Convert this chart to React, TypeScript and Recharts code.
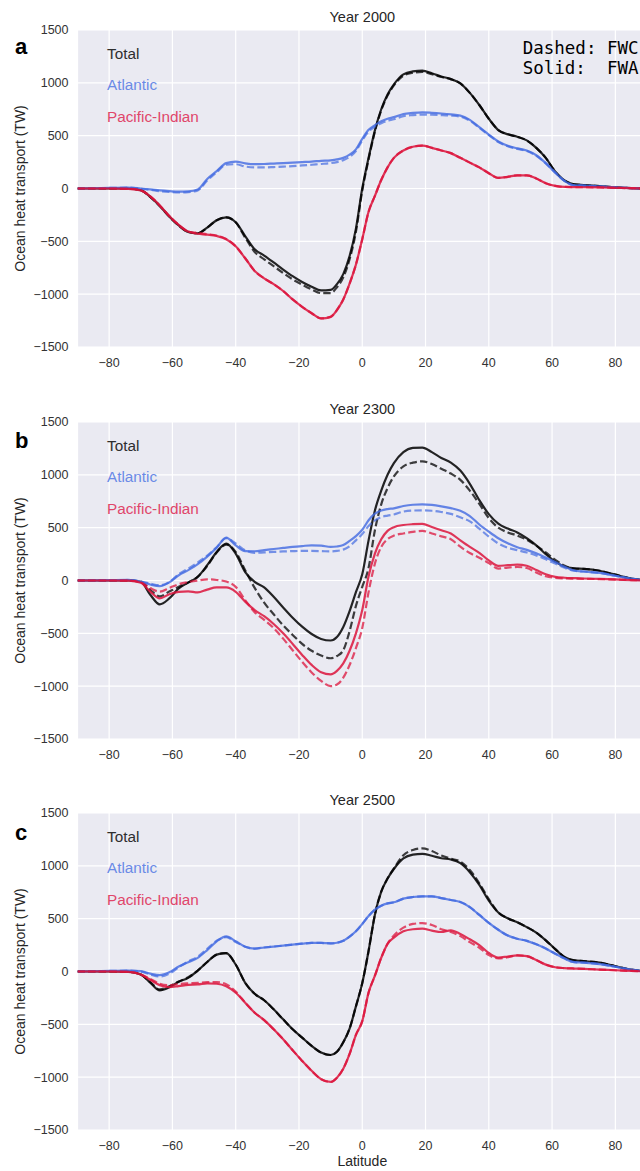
import React from "react";
import { LineChart, Line, XAxis, YAxis, CartesianGrid } from "recharts";

// latitude grid shared by every curve
const lat = [
  -90, -80, -74, -70, -67, -64, -61, -58, -55, -52, -49, -46, -43, -40, -37, -34, -31, -28, -25, -22,
  -19, -16, -13, -10, -8, -6, -4, -2, 0, 2, 4, 6, 8, 10, 13, 16, 19, 22, 25, 28,
  31, 34, 37, 40, 43, 46, 49, 52, 55, 58, 61, 64, 67, 70, 75, 80, 85, 90,
];

// ---- Year 2000 ----
const a_total_fwa = [
  0, 0, 0, -15, -80, -165, -265, -350, -412, -425, -370, -300, -274, -320, -450, -575, -635, -700, -767, -830,
  -885, -930, -965, -960, -905, -810, -640, -380, 0, 290, 550, 750, 890, 985, 1080, 1108, 1116, 1090, 1060, 1035,
  995, 905, 790, 660, 553, 513, 490, 455, 385, 290, 160, 75, 40, 32, 22, 10, 4, 0,
];
const a_total_fwc = [
  0, 0, 0, -15, -80, -165, -265, -350, -412, -425, -370, -300, -274, -320, -465, -600, -670, -735, -800, -860,
  -910, -955, -990, -990, -935, -840, -670, -410, -20, 275, 540, 740, 880, 975, 1068, 1095, 1103, 1082, 1055, 1035,
  995, 905, 790, 660, 553, 513, 490, 455, 385, 290, 160, 75, 40, 32, 22, 10, 4, 0,
];
const a_atl_fwa = [
  0, 5, 8, 0, -8, -18, -25, -30, -28, -10, 90, 165, 240, 255, 238, 230, 232, 236, 240, 245,
  250, 255, 262, 267, 275, 290, 320, 370, 470, 555, 600, 636, 660, 675, 705, 715, 720, 716, 710, 702,
  690, 650, 580, 510, 445, 405, 380, 360, 315, 240, 150, 70, 30, 28, 20, 10, 4, 0,
];
const a_atl_fwc = [
  0, 5, 8, -2, -12, -25, -33, -38, -35, -18, 75, 155, 225, 230, 208, 200, 200, 203, 207, 212,
  218, 225, 232, 240, 250, 268, 300, 355, 455, 540, 585, 618, 640, 655, 685, 695, 700, 698, 695, 690,
  680, 642, 575, 505, 440, 400, 375, 355, 310, 238, 150, 70, 30, 28, 20, 10, 4, 0,
];
const a_pi_fwa = [
  0, 0, -3, -18, -75, -160, -260, -345, -408, -428, -437, -450, -480, -547, -660, -780, -850, -905, -970, -1050,
  -1120, -1180, -1230, -1215, -1150, -1050, -900, -720, -480, -220, -70, 80, 200, 290, 360, 395, 405, 385, 360, 335,
  290, 245, 200, 145, 100, 110, 125, 125, 95, 50, 25, 15, 13, 12, 10, 6, 3, 0,
];
const a_pi_fwc = [
  0, 0, -3, -18, -75, -160, -260, -345, -408, -420, -432, -445, -478, -547, -660, -780, -850, -905, -970, -1050,
  -1120, -1180, -1230, -1215, -1150, -1050, -900, -720, -480, -220, -70, 80, 200, 290, 360, 395, 405, 385, 360, 335,
  290, 245, 200, 145, 100, 110, 125, 125, 95, 50, 25, 15, 13, 12, 10, 6, 3, 0,
];

// ---- Year 2300 ----
const b_total_fwa = [
  0, 0, 0, -12, -135, -226, -170, -75, -20, 35, 145, 270, 349, 255, 80, -13, -65, -154, -255, -352,
  -437, -506, -553, -568, -535, -440, -290, -110, 60, 380, 663, 850, 1000, 1110, 1215, 1255, 1258, 1215, 1160, 1115,
  1040, 915, 760, 628, 538, 491, 455, 400, 333, 250, 178, 130, 115, 110, 92, 55, 19, 0,
];
const b_total_fwc = [
  0, 0, 0, -10, -90, -150, -105, -60, -18, 35, 138, 265, 340, 270, 97, -70, -210, -320, -425, -515,
  -600, -665, -710, -736, -715, -660, -480, -240, -60, 120, 475, 720, 875, 985, 1080, 1115, 1128, 1102, 1057, 1012,
  952, 850, 725, 590, 500, 455, 425, 385, 330, 265, 195, 140, 112, 110, 92, 55, 19, 0,
];
const b_atl_fwa = [
  0, 3, 5, -12, -38, -53, -18, 50, 98, 154, 226, 311, 405, 333, 278, 277, 288, 298, 308, 318,
  326, 333, 330, 318, 322, 335, 375, 420, 480, 570, 632, 662, 676, 683, 705, 717, 720, 715, 702, 685,
  660, 610, 530, 462, 400, 352, 315, 290, 258, 218, 175, 130, 95, 85, 72, 45, 17, 0,
];
const b_atl_fwc = [
  0, 3, 5, -10, -30, -45, -15, 60, 112, 170, 235, 315, 400, 350, 285, 262, 266, 270, 275, 278,
  280, 280, 278, 275, 280, 292, 325, 380, 440, 515, 569, 600, 614, 625, 652, 662, 663, 660, 648, 630,
  598, 560, 490, 415, 350, 310, 288, 265, 238, 200, 160, 120, 92, 85, 72, 45, 17, 0,
];
const b_pi_fwa = [
  0, 0, -2, -22, -105, -170, -130, -107, -102, -113, -86, -66, -66, -107, -200, -280, -338, -412, -500, -600,
  -704, -799, -868, -888, -855, -785, -665, -500, -280, 40, 255, 390, 470, 505, 525, 533, 536, 506, 475, 445,
  380, 318, 262, 190, 138, 145, 150, 140, 100, 60, 35, 26, 22, 19, 15, 10, 4, 0,
];
const b_pi_fwc = [
  0, 0, -2, -18, -72, -105, -70, -35, -15, 0, 11, 5, -10, -60, -185, -300, -372, -450, -550, -660,
  -770, -870, -950, -1000, -985, -920, -800, -640, -450, -110, 160, 318, 392, 425, 445, 460, 469, 445, 418, 390,
  320, 260, 215, 165, 113, 122, 128, 118, 75, 40, 25, 20, 18, 16, 13, 9, 4, 0,
];

// ---- Year 2500 ----
const c_total_fwa = [
  0, 0, -2, -28, -105, -179, -150, -97, -60, 9, 90, 160, 173, 66, -107, -211, -272, -358, -453, -547,
  -626, -704, -767, -790, -760, -670, -540, -330, -110, 195, 538, 755, 880, 970, 1070, 1106, 1114, 1095, 1072, 1060,
  1025, 940, 820, 670, 558, 503, 466, 420, 368, 295, 212, 135, 105, 98, 85, 50, 17, 0,
];
const c_total_fwc = [
  0, 0, -2, -28, -100, -170, -140, -95, -55, 9, 90, 160, 173, 66, -107, -211, -272, -358, -453, -547,
  -626, -704, -767, -790, -760, -670, -540, -330, -110, 195, 538, 755, 880, 975, 1100, 1150, 1165, 1140, 1098, 1068,
  1040, 960, 835, 685, 558, 503, 466, 420, 368, 295, 212, 135, 105, 98, 85, 50, 17, 0,
];
const c_atl_fwa = [
  0, 5, 8, 3, -20, -35, -8, 47, 88, 129, 203, 286, 333, 286, 235, 217, 227, 236, 245, 255,
  263, 270, 270, 267, 272, 290, 330, 380, 450, 525, 585, 623, 645, 655, 690, 705, 711, 711, 695, 677,
  658, 610, 535, 460, 395, 340, 310, 290, 258, 218, 168, 122, 88, 84, 70, 45, 17, 0,
];
const c_atl_fwc = [
  0, 5, 8, 0, -28, -48, -20, 40, 95, 140, 215, 292, 325, 280, 235, 217, 227, 236, 245, 255,
  263, 270, 270, 267, 272, 290, 330, 380, 450, 525, 585, 623, 645, 655, 690, 705, 711, 711, 695, 677,
  658, 610, 535, 460, 395, 340, 310, 290, 258, 218, 168, 122, 88, 84, 70, 45, 17, 0,
];
const c_pi_fwa = [
  0, 0, -3, -28, -78, -129, -148, -138, -126, -123, -112, -116, -140, -201, -295, -390, -460, -547, -641, -745,
  -846, -940, -1019, -1045, -1005, -920, -780, -600, -470, -200, -40, 130, 262, 320, 380, 400, 405, 387, 374, 390,
  355, 305, 250, 175, 132, 142, 152, 145, 108, 65, 40, 32, 28, 25, 18, 12, 5, 0,
];
const c_pi_fwc = [
  0, 0, -3, -28, -70, -115, -130, -118, -112, -108, -100, -100, -120, -190, -295, -390, -460, -547, -641, -745,
  -846, -940, -1019, -1045, -1005, -920, -780, -600, -470, -200, -40, 130, 262, 340, 415, 450, 458, 440, 400, 375,
  335, 278, 225, 155, 124, 135, 152, 145, 108, 65, 40, 32, 28, 25, 18, 12, 5, 0,
];

const xTicks = [-80, -60, -40, -20, 0, 20, 40, 60, 80];
const yTicks = [-1500, -1000, -500, 0, 500, 1000, 1500];

const SANS = '"Liberation Sans", Arial, sans-serif';
const MONO = '"DejaVu Sans Mono", monospace';

const BLACK = "#000000";
const BLUE = "#4169E1";
const RED = "#DC143C";

const fmt = (v: number) => (v < 0 ? "\u2212" + Math.abs(v) : String(v));

type Row = { lat: number; tA: number; tC: number; aA: number; aC: number; pA: number; pC: number };

const build = (tA: number[], tC: number[], aA: number[], aC: number[], pA: number[], pC: number[]): Row[] =>
  lat.map((l, i) => ({ lat: l, tA: tA[i], tC: tC[i], aA: aA[i], aC: aC[i], pA: pA[i], pC: pC[i] }));

const panels = [
  { letter: "a", title: "Year 2000", top: 0, rows: build(a_total_fwa, a_total_fwc, a_atl_fwa, a_atl_fwc, a_pi_fwa, a_pi_fwc), letterY: 53.5 },
  { letter: "b", title: "Year 2300", top: 392, rows: build(b_total_fwa, b_total_fwc, b_atl_fwa, b_atl_fwc, b_pi_fwa, b_pi_fwc), letterY: 448 },
  { letter: "c", title: "Year 2500", top: 783, rows: build(c_total_fwa, c_total_fwc, c_atl_fwa, c_atl_fwc, c_pi_fwa, c_pi_fwc), letterY: 840 },
];

const PLOT_TOP = 30;
const PLOT_H = 317;
const LW = 2.2;

const Panel = ({ rows }: { rows: Row[] }) => (
  <LineChart width={650} height={391} data={rows} margin={{ top: PLOT_TOP, right: 3, bottom: 14, left: 0 }}>
    <CartesianGrid fill="#EAEAF2" fillOpacity={1} stroke="#ffffff" strokeWidth={1.2} />
    <XAxis
      dataKey="lat"
      type="number"
      domain={[-90, 90]}
      ticks={xTicks}
      tickFormatter={fmt}
      axisLine={false}
      tickLine={false}
      tickSize={8}
      tickMargin={3}
      height={30}
      tick={{ fontSize: 12.5, fill: "#333", fontFamily: SANS }}
      allowDataOverflow
    />
    <YAxis
      type="number"
      domain={[-1500, 1500]}
      ticks={yTicks}
      tickFormatter={fmt}
      axisLine={false}
      tickLine={false}
      tickSize={6}
      tickMargin={3}
      width={77.5}
      tick={{ fontSize: 12.5, fill: "#333", fontFamily: SANS }}
      allowDataOverflow
    />
    <Line dataKey="tA" type="monotone" stroke={BLACK} strokeOpacity={0.85} strokeWidth={LW} dot={false} activeDot={false} isAnimationActive={false} />
    <Line dataKey="tC" type="monotone" stroke={BLACK} strokeOpacity={0.75} strokeWidth={LW} strokeDasharray="7.4 3.2" dot={false} activeDot={false} isAnimationActive={false} />
    <Line dataKey="aA" type="monotone" stroke={BLUE} strokeOpacity={0.8} strokeWidth={LW} dot={false} activeDot={false} isAnimationActive={false} />
    <Line dataKey="aC" type="monotone" stroke={BLUE} strokeOpacity={0.7} strokeWidth={LW} strokeDasharray="7.4 3.2" dot={false} activeDot={false} isAnimationActive={false} />
    <Line dataKey="pA" type="monotone" stroke={RED} strokeOpacity={0.85} strokeWidth={LW} dot={false} activeDot={false} isAnimationActive={false} />
    <Line dataKey="pC" type="monotone" stroke={RED} strokeOpacity={0.75} strokeWidth={LW} strokeDasharray="7.4 3.2" dot={false} activeDot={false} isAnimationActive={false} />
  </LineChart>
);

export default function App() {
  return (
    <div style={{ position: "absolute", left: 0, top: 0, width: 640, height: 1171, overflow: "hidden", background: "#fff" }}>
      {panels.map((p) => (
        <div key={p.letter} style={{ position: "absolute", left: 0, top: p.top }}>
          <Panel rows={p.rows} />
        </div>
      ))}
      <svg width={640} height={1171} style={{ position: "absolute", left: 0, top: 0, pointerEvents: "none" }}>
        {panels.map((p) => {
          const pt = p.top + PLOT_TOP;
          const mid = pt + PLOT_H / 2;
          return (
            <g key={p.letter}>
              <text x={362.3} y={pt - 8} textAnchor="middle" fontFamily={SANS} fontSize={14.5} fill="#262626">
                {p.title}
              </text>
              <text x={15} y={p.letterY} fontFamily={SANS} fontSize={22} fontWeight="bold" fill="#000">
                {p.letter}
              </text>
              <text x={25} y={mid} transform={`rotate(-90 25 ${mid})`} textAnchor="middle" fontFamily={SANS} fontSize={14} fill="#262626">
                Ocean heat transport (TW)
              </text>
              <text x={107} y={pt + 28.7} fontFamily={SANS} fontSize={15.3} fill="#2e2e2e">Total</text>
              <text x={107} y={pt + 60.3} fontFamily={SANS} fontSize={15.3} fill="#6b8ae6">Atlantic</text>
              <text x={107} y={pt + 92} fontFamily={SANS} fontSize={15.3} fill="#e0466a">Pacific-Indian</text>
            </g>
          );
        })}
        <text x={522.7} y={53.7} fontFamily={MONO} fontSize={17.5} fill="#000" style={{ whiteSpace: "pre" }}>
          Dashed: FWC
        </text>
        <text x={522.7} y={73.7} fontFamily={MONO} fontSize={17.5} fill="#000" style={{ whiteSpace: "pre" }}>
          {"Solid:  FWA"}
        </text>
        <text x={362.3} y={1166} textAnchor="middle" fontFamily={SANS} fontSize={14} fill="#262626">
          Latitude
        </text>
      </svg>
    </div>
  );
}
